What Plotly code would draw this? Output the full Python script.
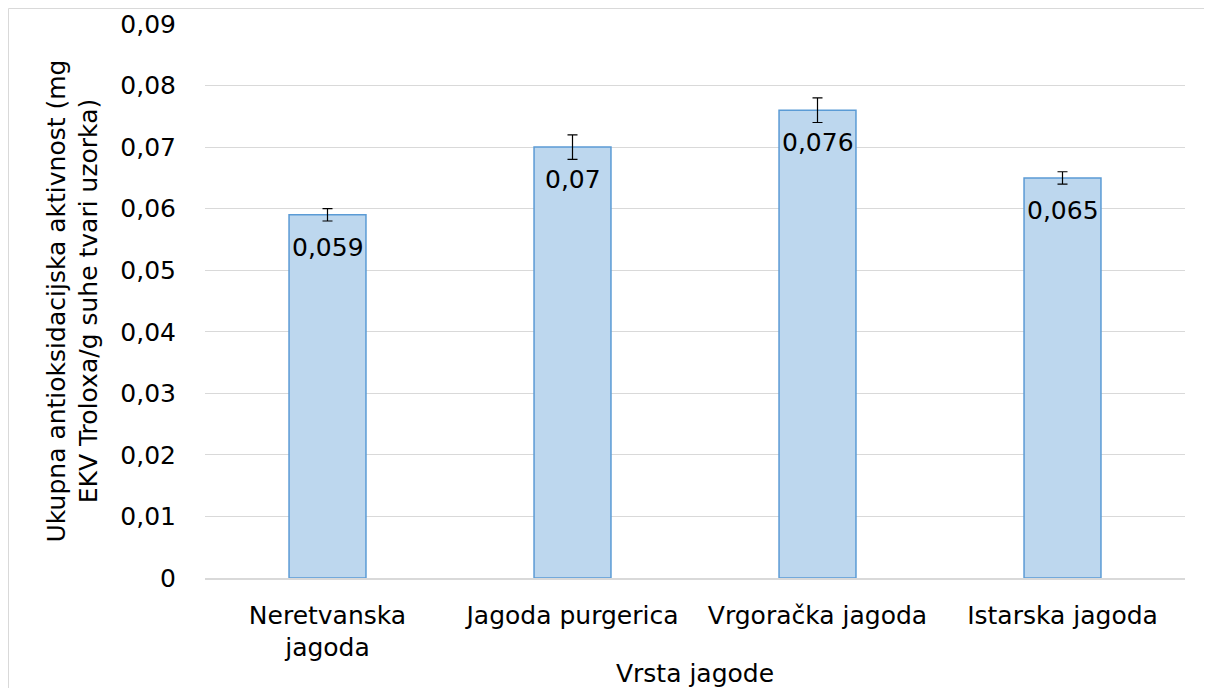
import plotly.graph_objects as go

categories = ["Neretvanska<br>jagoda", "Jagoda purgerica", "Vrgoračka jagoda", "Istarska jagoda"]
values = [0.059, 0.070, 0.076, 0.065]
errors = [0.001, 0.002, 0.002, 0.001]
labels = ["0,059", "0,07", "0,076", "0,065"]

FONT = "DejaVu Sans"
FS = 25

fig = go.Figure()
fig.add_trace(go.Bar(
    x=categories, y=values,
    marker=dict(color="#BDD7EE", line=dict(color="#5B9BD5", width=1.5)),
    error_y=dict(type="data", array=errors, visible=True, color="#000000", thickness=1.2, width=5),
    hoverinfo="skip",
))

annotations = [
    dict(x=c, y=v, xref="x", yref="y", text=t, showarrow=False,
         yanchor="top", yshift=-16,
         font=dict(family=FONT, size=FS, color="#000000"))
    for c, v, t in zip(categories, values, labels)
]

fig.update_layout(
    width=1204, height=680,
    margin=dict(l=197, r=27, t=16, b=110),
    paper_bgcolor="white", plot_bgcolor="white",
    separators=", ",
    bargap=0.686,
    showlegend=False,
    font=dict(family=FONT, size=FS, color="#000000"),
    annotations=annotations,
    shapes=[dict(type="rect", xref="paper", yref="paper",
                 x0=-196.5/980, x1=1.0 + 22/980, y0=-125/554, y1=1.0 + 15.5/554,
                 line=dict(color="#D9D9D9", width=1), fillcolor="rgba(0,0,0,0)", layer="below")],
)
fig.update_yaxes(
    range=[0, 0.09], dtick=0.01, showgrid=True, gridcolor="#D9D9D9", gridwidth=1,
    zeroline=False, showline=False, ticks="", ticklabelstandoff=28, automargin=False,
    tickfont=dict(family=FONT, size=FS, color="#000000"),
    title=dict(text="Ukupna antioksidacijska aktivnost (mg<br>EKV Troloxa/g suhe tvari uzorka)",
               font=dict(family=FONT, size=FS, color="#000000"), standoff=15),
)
fig.update_xaxes(
    showline=True, linecolor="#D9D9D9", linewidth=1.5, ticks="", ticklabelstandoff=14,
    automargin=False,
    tickfont=dict(family=FONT, size=FS, color="#000000"),
    title=dict(text="Vrsta jagode", font=dict(family=FONT, size=FS, color="#000000"), standoff=6),
)

fig.write_html("out.html")
